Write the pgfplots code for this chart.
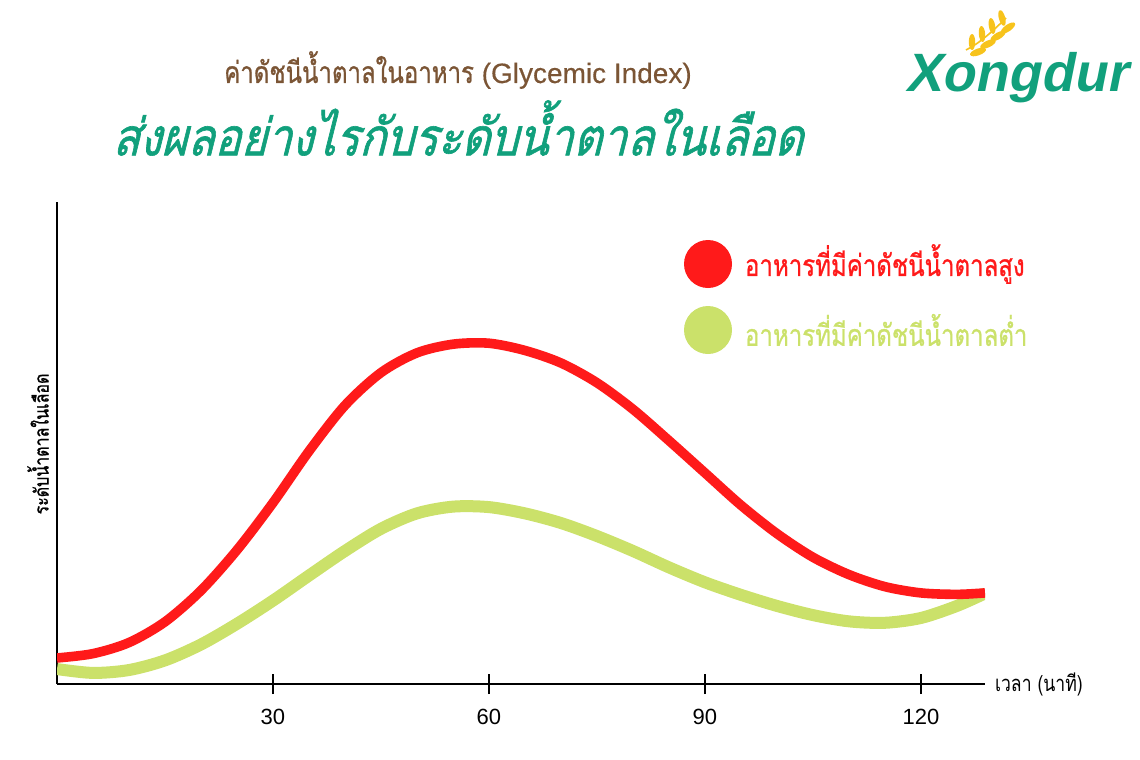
\documentclass[border=0pt]{standalone}
\usepackage{fontspec}
\setmainfont{Liberation Sans}
\newfontfamily\thaifont[Script=Thai]{Loma}
\newfontfamily\thaicond[Script=Thai,FakeStretch=0.8]{Loma}
\newfontfamily\thaislant[Script=Thai,FakeSlant=0.25,FakeStretch=0.85,FakeBold=1.2]{Loma}
\newfontfamily\thaicondb[Script=Thai,FakeStretch=0.8,FakeBold=0.8]{Loma}
\newfontfamily\latinmed[FakeBold=0.4]{Liberation Sans}
\newfontfamily\logofont[FakeSlant=0.2]{Liberation Sans Bold}
\usepackage{pgfplots}
\pgfplotsset{compat=1.18}
\definecolor{hired}{HTML}{FF1A1A}
\definecolor{logreen}{HTML}{CBE16A}
\definecolor{titlebrown}{HTML}{7B5535}
\definecolor{subgreen}{HTML}{11A07C}
\definecolor{wheat}{HTML}{F7C31C}

\pgfplotstableread{
t level
0 5.4
5 6.3
10 8.6
15 12.9
20 19.4
25 27.8
30 37.6
35 48.3
40 57.8
45 64.6
50 68.7
55 70.5
60 70.7
65 69.2
70 66.6
75 62.5
80 57.0
85 50.5
90 43.8
95 37.1
100 31.2
105 26.3
110 22.7
115 20.2
120 18.9
125 18.6
128.9 18.9
}\highgi

\pgfplotstableread{
t level
0 3.1
5 2.3
10 2.9
15 4.9
20 8.2
25 12.5
30 17.3
35 22.5
40 27.6
45 32.2
50 35.4
55 36.8
60 36.7
65 35.4
70 33.4
75 30.7
80 27.6
85 24.2
90 21.1
95 18.5
100 16.2
105 14.3
110 13.0
115 12.7
120 13.7
125 16.2
128.9 18.8
}\lowgi

\begin{document}
\begin{tikzpicture}
\path[use as bounding box] (0pt,0pt) rectangle (570pt,-380pt);

% titles
\node[anchor=center, text=titlebrown, font=\latinmed\fontsize{14}{16}\selectfont] at (229pt,-35pt)
  {{\thaicondb\fontsize{15}{16}\selectfont ค่าดัชนีน้ำตาลในอาหาร} (Glycemic Index)};
\node[anchor=center, text=subgreen, font=\fontsize{26}{30}\selectfont] at (229pt,-64pt)
  {\thaislant ส่งผลอย่างไรกับระดับน้ำตาลในเลือด};

% logo
\begin{scope}[shift={(483pt,-25pt)}]
  \draw[wheat, line width=0.8pt] (0,0) .. controls (6pt,3pt) and (12pt,8pt) .. (20pt,16pt);
  \foreach \p/\a in {{(3pt,4pt)}/60, {(8pt,8pt)}/55, {(13pt,12pt)}/50, {(18pt,16pt)}/45}{
    \fill[wheat] \p ellipse [x radius=1.6pt, y radius=4pt, rotate=-\a+60];
  }
  \foreach \p/\a in {{(6pt,-1pt)}/20, {(11pt,3pt)}/25, {(16pt,7pt)}/30, {(21pt,11pt)}/35}{
    \fill[wheat, rotate around={\a:\p}] \p ellipse [x radius=4.2pt, y radius=1.7pt];
  }
\end{scope}
\node[anchor=center, text=subgreen, font=\logofont\fontsize{27}{30}\selectfont] at (508pt,-39pt) {Xongdur};

\begin{axis}[
  at={(28.5pt,-342pt)}, anchor=south west,
  scale only axis, width=464pt, height=241pt,
  xmin=0, xmax=128.9, ymin=0, ymax=100,
  axis lines=left,
  axis line style={-, line width=1.2pt, black},
  xtick={30,60,90,120}, ytick=\empty,
  tick align=center, major tick length=10pt,
  tick style={line width=1pt, black},
  /pgf/number format/assume math mode=true,
  xticklabel style={font=\fontsize{11}{13}\selectfont, yshift=-4pt},
  clip=true,
]
\addplot[logreen, line width=6pt, smooth] table {\lowgi};
\addplot[hired, line width=4.8pt, smooth] table {\highgi};
\end{axis}

% axis labels
\node[anchor=west, font=\fontsize{11}{13}\selectfont] at (494pt,-342pt) {\thaicond เวลา (นาที)};
\node[rotate=90, font=\fontsize{10}{12}\selectfont] at (19pt,-222pt) {\thaicondb ระดับน้ำตาลในเลือด};

% legend
\fill[hired] (354pt,-132pt) circle (12pt);
\node[anchor=west, text=hired, font=\fontsize{15}{18}\selectfont] at (369pt,-132pt) {\thaicondb อาหารที่มีค่าดัชนีน้ำตาลสูง};
\fill[logreen] (354pt,-165pt) circle (12pt);
\node[anchor=west, text=logreen, font=\fontsize{15}{18}\selectfont] at (369pt,-165pt) {\thaicondb อาหารที่มีค่าดัชนีน้ำตาลต่ำ};
\end{tikzpicture}
\end{document}
